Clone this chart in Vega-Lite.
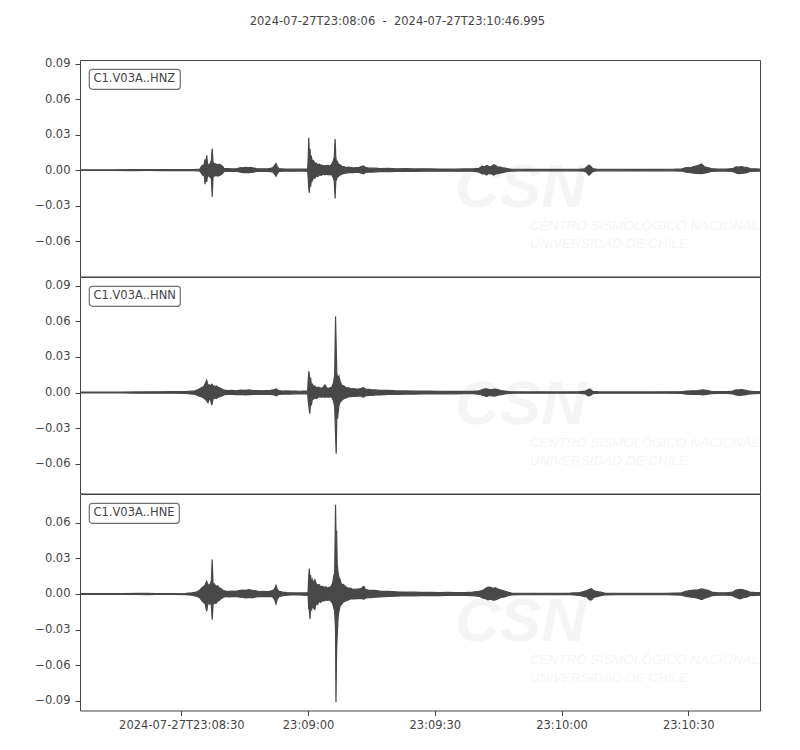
{
  "$schema": "https://vega.github.io/schema/vega-lite/v6.json",
  "description": "Three-component seismogram, station C1.V03A",
  "padding": {"left": 34, "top": 15, "right": 37, "bottom": 10},
  "title": {
    "text": "2024-07-27T23:08:06\u00a0 -\u00a0 2024-07-27T23:10:46.995",
    "anchor": "middle",
    "font": "DejaVu Sans",
    "fontSize": 11.5,
    "fontWeight": "normal",
    "color": "#454545",
    "offset": 30
  },
  "datasets": {
    "hnz": [
      {"t": 0, "lo": -0.0003, "hi": 0.0003}, {"t": 4, "lo": -0.0003, "hi": 0.0003}, {"t": 8, "lo": -0.0003, "hi": 0.0003},
      {"t": 12, "lo": -0.0004, "hi": 0.0004}, {"t": 16, "lo": -0.0003, "hi": 0.0005}, {"t": 20, "lo": -0.0004, "hi": 0.0004},
      {"t": 24, "lo": -0.0004, "hi": 0.0005}, {"t": 27, "lo": -0.0005, "hi": 0.0005}, {"t": 28.4, "lo": -0.0008, "hi": 0.0008},
      {"t": 28.8, "lo": -0.003, "hi": 0.0035}, {"t": 29.1, "lo": -0.0045, "hi": 0.004}, {"t": 29.4, "lo": -0.004, "hi": 0.005},
      {"t": 29.6, "lo": -0.012, "hi": 0.009}, {"t": 29.8, "lo": -0.005, "hi": 0.006}, {"t": 30, "lo": -0.01, "hi": 0.0125},
      {"t": 30.2, "lo": -0.0045, "hi": 0.005}, {"t": 30.5, "lo": -0.005, "hi": 0.0045}, {"t": 30.8, "lo": -0.006, "hi": 0.0055},
      {"t": 31.1, "lo": -0.007, "hi": 0.008}, {"t": 31.3, "lo": -0.0226, "hi": 0.0183}, {"t": 31.5, "lo": -0.006, "hi": 0.0065},
      {"t": 31.8, "lo": -0.005, "hi": 0.0055}, {"t": 32.2, "lo": -0.0045, "hi": 0.005}, {"t": 32.6, "lo": -0.005, "hi": 0.0045},
      {"t": 33, "lo": -0.0045, "hi": 0.005}, {"t": 33.4, "lo": -0.004, "hi": 0.004}, {"t": 33.8, "lo": -0.0025, "hi": 0.003},
      {"t": 34.1, "lo": -0.0012, "hi": 0.0012}, {"t": 35, "lo": -0.001, "hi": 0.0012}, {"t": 36, "lo": -0.0012, "hi": 0.001},
      {"t": 37, "lo": -0.001, "hi": 0.0011}, {"t": 38, "lo": -0.0018, "hi": 0.002}, {"t": 38.6, "lo": -0.0022, "hi": 0.0018},
      {"t": 39.2, "lo": -0.002, "hi": 0.0023}, {"t": 39.8, "lo": -0.0023, "hi": 0.002}, {"t": 40.4, "lo": -0.002, "hi": 0.0024},
      {"t": 41, "lo": -0.0018, "hi": 0.0018}, {"t": 41.8, "lo": -0.0012, "hi": 0.0012}, {"t": 43, "lo": -0.001, "hi": 0.0011},
      {"t": 44.5, "lo": -0.0011, "hi": 0.001}, {"t": 45.6, "lo": -0.0015, "hi": 0.0018}, {"t": 46.1, "lo": -0.0035, "hi": 0.004},
      {"t": 46.4, "lo": -0.0052, "hi": 0.0055}, {"t": 46.7, "lo": -0.003, "hi": 0.003}, {"t": 47.1, "lo": -0.0012, "hi": 0.0012},
      {"t": 48.5, "lo": -0.0008, "hi": 0.0009}, {"t": 50, "lo": -0.0009, "hi": 0.0008}, {"t": 51.5, "lo": -0.0008, "hi": 0.0009},
      {"t": 53, "lo": -0.0008, "hi": 0.0008}, {"t": 53.9, "lo": -0.0009, "hi": 0.0009}, {"t": 54.05, "lo": -0.008, "hi": 0.012},
      {"t": 54.15, "lo": -0.015, "hi": 0.0273}, {"t": 54.3, "lo": -0.0192, "hi": 0.015}, {"t": 54.45, "lo": -0.01, "hi": 0.018},
      {"t": 54.6, "lo": -0.014, "hi": 0.009}, {"t": 54.8, "lo": -0.008, "hi": 0.011}, {"t": 55, "lo": -0.009, "hi": 0.0075},
      {"t": 55.3, "lo": -0.006, "hi": 0.008}, {"t": 55.6, "lo": -0.007, "hi": 0.0055}, {"t": 55.9, "lo": -0.005, "hi": 0.006},
      {"t": 56.3, "lo": -0.0055, "hi": 0.0045}, {"t": 56.7, "lo": -0.004, "hi": 0.005}, {"t": 57.1, "lo": -0.0045, "hi": 0.004},
      {"t": 57.5, "lo": -0.0035, "hi": 0.004}, {"t": 57.9, "lo": -0.004, "hi": 0.0035}, {"t": 58.3, "lo": -0.0035, "hi": 0.0038},
      {"t": 58.7, "lo": -0.0038, "hi": 0.004}, {"t": 59.1, "lo": -0.004, "hi": 0.0035}, {"t": 59.5, "lo": -0.0035, "hi": 0.0045},
      {"t": 59.9, "lo": -0.006, "hi": 0.007}, {"t": 60.2, "lo": -0.009, "hi": 0.011}, {"t": 60.4, "lo": -0.024, "hi": 0.0262},
      {"t": 60.55, "lo": -0.01, "hi": 0.012}, {"t": 60.7, "lo": -0.0085, "hi": 0.007}, {"t": 60.9, "lo": -0.006, "hi": 0.0075},
      {"t": 61.2, "lo": -0.0055, "hi": 0.005}, {"t": 61.6, "lo": -0.004, "hi": 0.0045}, {"t": 62, "lo": -0.0035, "hi": 0.003},
      {"t": 62.5, "lo": -0.0028, "hi": 0.003}, {"t": 63, "lo": -0.0025, "hi": 0.0022}, {"t": 63.6, "lo": -0.0022, "hi": 0.0025},
      {"t": 64.2, "lo": -0.002, "hi": 0.002}, {"t": 64.8, "lo": -0.0022, "hi": 0.0018}, {"t": 65.4, "lo": -0.0018, "hi": 0.002},
      {"t": 66, "lo": -0.002, "hi": 0.0022}, {"t": 66.6, "lo": -0.0025, "hi": 0.003}, {"t": 67.1, "lo": -0.0032, "hi": 0.0036},
      {"t": 67.6, "lo": -0.002, "hi": 0.0022}, {"t": 68.3, "lo": -0.0016, "hi": 0.0018}, {"t": 69, "lo": -0.0018, "hi": 0.0016},
      {"t": 70, "lo": -0.0015, "hi": 0.0016}, {"t": 71, "lo": -0.0014, "hi": 0.0013}, {"t": 73, "lo": -0.0013, "hi": 0.0014},
      {"t": 75, "lo": -0.0012, "hi": 0.0011}, {"t": 77, "lo": -0.001, "hi": 0.0012}, {"t": 79, "lo": -0.0011, "hi": 0.001},
      {"t": 81, "lo": -0.001, "hi": 0.0011}, {"t": 83, "lo": -0.0009, "hi": 0.001}, {"t": 85, "lo": -0.001, "hi": 0.0009},
      {"t": 87, "lo": -0.0008, "hi": 0.0009}, {"t": 89, "lo": -0.0009, "hi": 0.0008}, {"t": 91, "lo": -0.0009, "hi": 0.001},
      {"t": 93, "lo": -0.001, "hi": 0.001}, {"t": 94.5, "lo": -0.0018, "hi": 0.0015}, {"t": 95.2, "lo": -0.0032, "hi": 0.0034},
      {"t": 95.8, "lo": -0.003, "hi": 0.0028}, {"t": 96.3, "lo": -0.0042, "hi": 0.004}, {"t": 96.8, "lo": -0.0028, "hi": 0.003},
      {"t": 97.4, "lo": -0.0032, "hi": 0.003}, {"t": 98, "lo": -0.0042, "hi": 0.0045}, {"t": 98.3, "lo": -0.0035, "hi": 0.004},
      {"t": 98.8, "lo": -0.003, "hi": 0.0028}, {"t": 99.5, "lo": -0.0025, "hi": 0.0026}, {"t": 100.3, "lo": -0.002, "hi": 0.0018},
      {"t": 101.2, "lo": -0.0012, "hi": 0.0012}, {"t": 102, "lo": -0.0008, "hi": 0.0008}, {"t": 104, "lo": -0.0006, "hi": 0.0007},
      {"t": 106, "lo": -0.0007, "hi": 0.0006}, {"t": 108, "lo": -0.0006, "hi": 0.0006}, {"t": 110, "lo": -0.0006, "hi": 0.0007},
      {"t": 112, "lo": -0.0007, "hi": 0.0006}, {"t": 114, "lo": -0.0006, "hi": 0.0006}, {"t": 116, "lo": -0.0006, "hi": 0.0007},
      {"t": 118, "lo": -0.0007, "hi": 0.0007}, {"t": 119.5, "lo": -0.001, "hi": 0.0011}, {"t": 120.1, "lo": -0.0025, "hi": 0.003},
      {"t": 120.5, "lo": -0.0045, "hi": 0.0042}, {"t": 120.9, "lo": -0.003, "hi": 0.0032}, {"t": 121.4, "lo": -0.0012, "hi": 0.0012},
      {"t": 122.5, "lo": -0.0006, "hi": 0.0007}, {"t": 125, "lo": -0.0006, "hi": 0.0006}, {"t": 128, "lo": -0.0006, "hi": 0.0007},
      {"t": 131, "lo": -0.0007, "hi": 0.0006}, {"t": 134, "lo": -0.0006, "hi": 0.0006}, {"t": 137, "lo": -0.0006, "hi": 0.0006},
      {"t": 140, "lo": -0.0006, "hi": 0.0007}, {"t": 142.5, "lo": -0.001, "hi": 0.001}, {"t": 143.5, "lo": -0.0018, "hi": 0.002},
      {"t": 144.5, "lo": -0.0022, "hi": 0.002}, {"t": 145.3, "lo": -0.0025, "hi": 0.003}, {"t": 146, "lo": -0.0028, "hi": 0.0035},
      {"t": 147.2, "lo": -0.003, "hi": 0.0052}, {"t": 147.8, "lo": -0.0025, "hi": 0.0028}, {"t": 148.6, "lo": -0.002, "hi": 0.0022},
      {"t": 149.5, "lo": -0.0012, "hi": 0.0012}, {"t": 151, "lo": -0.0008, "hi": 0.0008}, {"t": 153, "lo": -0.0008, "hi": 0.0009},
      {"t": 154.5, "lo": -0.0012, "hi": 0.0012}, {"t": 155.3, "lo": -0.0025, "hi": 0.0028}, {"t": 155.9, "lo": -0.003, "hi": 0.0025},
      {"t": 156.5, "lo": -0.0028, "hi": 0.003}, {"t": 157.2, "lo": -0.0025, "hi": 0.0025}, {"t": 157.9, "lo": -0.0022, "hi": 0.0024},
      {"t": 158.6, "lo": -0.0012, "hi": 0.0012}, {"t": 160, "lo": -0.0009, "hi": 0.001}, {"t": 161, "lo": -0.0008, "hi": 0.0008}
    ],
    "hnn": [
      {"t": 0, "lo": -0.0003, "hi": 0.0003}, {"t": 5, "lo": -0.0003, "hi": 0.0003}, {"t": 10, "lo": -0.0003, "hi": 0.0004},
      {"t": 14, "lo": -0.0005, "hi": 0.0005}, {"t": 18, "lo": -0.0006, "hi": 0.0006}, {"t": 22, "lo": -0.0006, "hi": 0.0007},
      {"t": 25, "lo": -0.0008, "hi": 0.0008}, {"t": 27.2, "lo": -0.0015, "hi": 0.0014}, {"t": 28, "lo": -0.0028, "hi": 0.0025},
      {"t": 28.7, "lo": -0.0035, "hi": 0.004}, {"t": 29.3, "lo": -0.0045, "hi": 0.005}, {"t": 29.7, "lo": -0.006, "hi": 0.008},
      {"t": 30, "lo": -0.007, "hi": 0.0104}, {"t": 30.3, "lo": -0.0085, "hi": 0.006}, {"t": 30.6, "lo": -0.0055, "hi": 0.0065},
      {"t": 30.9, "lo": -0.006, "hi": 0.0055}, {"t": 31.2, "lo": -0.0107, "hi": 0.007}, {"t": 31.5, "lo": -0.0055, "hi": 0.006},
      {"t": 31.9, "lo": -0.0045, "hi": 0.005}, {"t": 32.3, "lo": -0.005, "hi": 0.0055}, {"t": 32.7, "lo": -0.004, "hi": 0.0045},
      {"t": 33.1, "lo": -0.0035, "hi": 0.004}, {"t": 33.6, "lo": -0.0028, "hi": 0.003}, {"t": 34.1, "lo": -0.0018, "hi": 0.002},
      {"t": 35, "lo": -0.0015, "hi": 0.0016}, {"t": 36, "lo": -0.0016, "hi": 0.0018}, {"t": 37, "lo": -0.0018, "hi": 0.0015},
      {"t": 38, "lo": -0.0016, "hi": 0.002}, {"t": 39, "lo": -0.002, "hi": 0.0018}, {"t": 40, "lo": -0.0018, "hi": 0.0022},
      {"t": 41, "lo": -0.0016, "hi": 0.0016}, {"t": 42, "lo": -0.0015, "hi": 0.0017}, {"t": 43, "lo": -0.0016, "hi": 0.0015},
      {"t": 44, "lo": -0.0015, "hi": 0.0016}, {"t": 45, "lo": -0.0016, "hi": 0.0017}, {"t": 46, "lo": -0.002, "hi": 0.0025},
      {"t": 46.5, "lo": -0.0028, "hi": 0.003}, {"t": 47, "lo": -0.0016, "hi": 0.0016}, {"t": 48, "lo": -0.0013, "hi": 0.0013},
      {"t": 49, "lo": -0.0012, "hi": 0.0014}, {"t": 50, "lo": -0.0013, "hi": 0.0012}, {"t": 51, "lo": -0.0011, "hi": 0.0012},
      {"t": 52, "lo": -0.0012, "hi": 0.0011}, {"t": 53, "lo": -0.0011, "hi": 0.0012}, {"t": 53.9, "lo": -0.0012, "hi": 0.0012},
      {"t": 54.05, "lo": -0.008, "hi": 0.012}, {"t": 54.2, "lo": -0.012, "hi": 0.018}, {"t": 54.4, "lo": -0.0178, "hi": 0.011},
      {"t": 54.6, "lo": -0.009, "hi": 0.012}, {"t": 54.8, "lo": -0.01, "hi": 0.006}, {"t": 55, "lo": -0.006, "hi": 0.007},
      {"t": 55.3, "lo": -0.0055, "hi": 0.005}, {"t": 55.6, "lo": -0.0045, "hi": 0.0055}, {"t": 56, "lo": -0.005, "hi": 0.004},
      {"t": 56.4, "lo": -0.004, "hi": 0.0045}, {"t": 56.8, "lo": -0.0035, "hi": 0.004}, {"t": 57.2, "lo": -0.004, "hi": 0.0035},
      {"t": 57.6, "lo": -0.0035, "hi": 0.0045}, {"t": 58, "lo": -0.004, "hi": 0.0065}, {"t": 58.4, "lo": -0.0035, "hi": 0.004},
      {"t": 58.8, "lo": -0.004, "hi": 0.0035}, {"t": 59.2, "lo": -0.0035, "hi": 0.004}, {"t": 59.6, "lo": -0.004, "hi": 0.0045},
      {"t": 60, "lo": -0.007, "hi": 0.008}, {"t": 60.3, "lo": -0.012, "hi": 0.015}, {"t": 60.5, "lo": -0.035, "hi": 0.0642},
      {"t": 60.65, "lo": -0.0515, "hi": 0.04}, {"t": 60.8, "lo": -0.02, "hi": 0.017}, {"t": 61, "lo": -0.021, "hi": 0.012},
      {"t": 61.3, "lo": -0.011, "hi": 0.014}, {"t": 61.6, "lo": -0.008, "hi": 0.009}, {"t": 62, "lo": -0.0065, "hi": 0.006},
      {"t": 62.5, "lo": -0.005, "hi": 0.0055}, {"t": 63, "lo": -0.0045, "hi": 0.004}, {"t": 63.6, "lo": -0.0035, "hi": 0.004},
      {"t": 64.2, "lo": -0.0035, "hi": 0.0032}, {"t": 64.8, "lo": -0.003, "hi": 0.0033}, {"t": 65.4, "lo": -0.0032, "hi": 0.003},
      {"t": 66, "lo": -0.0028, "hi": 0.003}, {"t": 66.6, "lo": -0.003, "hi": 0.0035}, {"t": 67.1, "lo": -0.004, "hi": 0.0042},
      {"t": 67.6, "lo": -0.0028, "hi": 0.003}, {"t": 68.4, "lo": -0.0025, "hi": 0.0026}, {"t": 69.2, "lo": -0.0024, "hi": 0.0022},
      {"t": 70, "lo": -0.002, "hi": 0.0022}, {"t": 71, "lo": -0.002, "hi": 0.0018}, {"t": 73, "lo": -0.0016, "hi": 0.0018},
      {"t": 75, "lo": -0.0015, "hi": 0.0014}, {"t": 77, "lo": -0.0013, "hi": 0.0014}, {"t": 79, "lo": -0.0014, "hi": 0.0012},
      {"t": 81, "lo": -0.0012, "hi": 0.0013}, {"t": 83, "lo": -0.0011, "hi": 0.0012}, {"t": 85, "lo": -0.0012, "hi": 0.0011},
      {"t": 87, "lo": -0.001, "hi": 0.001}, {"t": 89, "lo": -0.0011, "hi": 0.001}, {"t": 91, "lo": -0.001, "hi": 0.0011},
      {"t": 93, "lo": -0.001, "hi": 0.001}, {"t": 94.5, "lo": -0.0015, "hi": 0.0015}, {"t": 95.6, "lo": -0.0025, "hi": 0.003},
      {"t": 96.2, "lo": -0.0035, "hi": 0.0032}, {"t": 96.8, "lo": -0.0025, "hi": 0.0028}, {"t": 97.5, "lo": -0.0028, "hi": 0.0025},
      {"t": 98.2, "lo": -0.003, "hi": 0.0028}, {"t": 98.9, "lo": -0.0022, "hi": 0.0024}, {"t": 99.7, "lo": -0.0018, "hi": 0.0016},
      {"t": 100.6, "lo": -0.0012, "hi": 0.0012}, {"t": 101.5, "lo": -0.0008, "hi": 0.0008}, {"t": 103, "lo": -0.0006, "hi": 0.0006},
      {"t": 106, "lo": -0.0006, "hi": 0.0005}, {"t": 109, "lo": -0.0005, "hi": 0.0006}, {"t": 112, "lo": -0.0006, "hi": 0.0005},
      {"t": 115, "lo": -0.0005, "hi": 0.0005}, {"t": 118, "lo": -0.0006, "hi": 0.0006}, {"t": 119.7, "lo": -0.0012, "hi": 0.0012},
      {"t": 120.3, "lo": -0.0028, "hi": 0.0026}, {"t": 120.8, "lo": -0.0024, "hi": 0.0028}, {"t": 121.4, "lo": -0.001, "hi": 0.001},
      {"t": 123, "lo": -0.0005, "hi": 0.0005}, {"t": 127, "lo": -0.0005, "hi": 0.0005}, {"t": 131, "lo": -0.0005, "hi": 0.0005},
      {"t": 135, "lo": -0.0005, "hi": 0.0005}, {"t": 139, "lo": -0.0005, "hi": 0.0006}, {"t": 142.5, "lo": -0.0008, "hi": 0.0008},
      {"t": 143.5, "lo": -0.0014, "hi": 0.0012}, {"t": 145, "lo": -0.0016, "hi": 0.0015}, {"t": 146.3, "lo": -0.0014, "hi": 0.0016},
      {"t": 147.5, "lo": -0.002, "hi": 0.0022}, {"t": 148.3, "lo": -0.0016, "hi": 0.0018}, {"t": 149.5, "lo": -0.001, "hi": 0.001},
      {"t": 151, "lo": -0.0007, "hi": 0.0007}, {"t": 153, "lo": -0.0008, "hi": 0.0007}, {"t": 154.5, "lo": -0.0012, "hi": 0.0012},
      {"t": 155.3, "lo": -0.002, "hi": 0.0022}, {"t": 156, "lo": -0.0024, "hi": 0.0022}, {"t": 156.7, "lo": -0.0022, "hi": 0.0024},
      {"t": 157.4, "lo": -0.002, "hi": 0.002}, {"t": 158.2, "lo": -0.0014, "hi": 0.0014}, {"t": 159.5, "lo": -0.0009, "hi": 0.0009},
      {"t": 161, "lo": -0.0008, "hi": 0.0008}
    ],
    "hne": [
      {"t": 0, "lo": -0.0003, "hi": 0.0003}, {"t": 5, "lo": -0.0003, "hi": 0.0003}, {"t": 10, "lo": -0.0003, "hi": 0.0003},
      {"t": 14, "lo": -0.0004, "hi": 0.0005}, {"t": 16, "lo": -0.0005, "hi": 0.0006}, {"t": 18, "lo": -0.0004, "hi": 0.0004},
      {"t": 22, "lo": -0.0004, "hi": 0.0004}, {"t": 25, "lo": -0.0006, "hi": 0.0006}, {"t": 26.5, "lo": -0.001, "hi": 0.001},
      {"t": 27.5, "lo": -0.0018, "hi": 0.0015}, {"t": 28.3, "lo": -0.003, "hi": 0.003}, {"t": 28.8, "lo": -0.0055, "hi": 0.005},
      {"t": 29.2, "lo": -0.007, "hi": 0.006}, {"t": 29.6, "lo": -0.008, "hi": 0.0075}, {"t": 30, "lo": -0.0146, "hi": 0.0107},
      {"t": 30.3, "lo": -0.0075, "hi": 0.008}, {"t": 30.6, "lo": -0.0085, "hi": 0.007}, {"t": 30.9, "lo": -0.007, "hi": 0.009},
      {"t": 31.1, "lo": -0.01, "hi": 0.011}, {"t": 31.3, "lo": -0.0217, "hi": 0.029}, {"t": 31.5, "lo": -0.009, "hi": 0.008},
      {"t": 31.8, "lo": -0.0075, "hi": 0.0085}, {"t": 32.2, "lo": -0.008, "hi": 0.0065}, {"t": 32.6, "lo": -0.006, "hi": 0.007},
      {"t": 33, "lo": -0.0055, "hi": 0.005}, {"t": 33.4, "lo": -0.004, "hi": 0.0045}, {"t": 33.9, "lo": -0.003, "hi": 0.0028},
      {"t": 34.5, "lo": -0.0022, "hi": 0.0024}, {"t": 35.3, "lo": -0.0025, "hi": 0.0022}, {"t": 36, "lo": -0.0022, "hi": 0.0025},
      {"t": 36.8, "lo": -0.002, "hi": 0.0022}, {"t": 37.6, "lo": -0.0025, "hi": 0.0028}, {"t": 38.4, "lo": -0.003, "hi": 0.0032},
      {"t": 39.2, "lo": -0.0034, "hi": 0.003}, {"t": 40, "lo": -0.003, "hi": 0.0036}, {"t": 40.8, "lo": -0.0034, "hi": 0.003},
      {"t": 41.6, "lo": -0.0025, "hi": 0.0026}, {"t": 42.4, "lo": -0.0022, "hi": 0.002}, {"t": 43.2, "lo": -0.002, "hi": 0.0022},
      {"t": 44, "lo": -0.0022, "hi": 0.002}, {"t": 44.8, "lo": -0.002, "hi": 0.0022}, {"t": 45.6, "lo": -0.0025, "hi": 0.0028},
      {"t": 46.1, "lo": -0.005, "hi": 0.0045}, {"t": 46.4, "lo": -0.0084, "hi": 0.0073}, {"t": 46.7, "lo": -0.0045, "hi": 0.004},
      {"t": 47.1, "lo": -0.0022, "hi": 0.0022}, {"t": 48, "lo": -0.0015, "hi": 0.0015}, {"t": 49, "lo": -0.001, "hi": 0.0011},
      {"t": 50, "lo": -0.0009, "hi": 0.001}, {"t": 51, "lo": -0.0009, "hi": 0.0009}, {"t": 52, "lo": -0.0009, "hi": 0.0009},
      {"t": 53, "lo": -0.001, "hi": 0.0009}, {"t": 54, "lo": -0.0012, "hi": 0.0012}, {"t": 54.15, "lo": -0.012, "hi": 0.015},
      {"t": 54.3, "lo": -0.014, "hi": 0.0214}, {"t": 54.45, "lo": -0.021, "hi": 0.012}, {"t": 54.6, "lo": -0.011, "hi": 0.016},
      {"t": 54.8, "lo": -0.014, "hi": 0.009}, {"t": 55, "lo": -0.01, "hi": 0.012}, {"t": 55.3, "lo": -0.012, "hi": 0.009},
      {"t": 55.6, "lo": -0.013, "hi": 0.012}, {"t": 55.9, "lo": -0.008, "hi": 0.009}, {"t": 56.2, "lo": -0.009, "hi": 0.0075},
      {"t": 56.6, "lo": -0.0065, "hi": 0.008}, {"t": 57, "lo": -0.007, "hi": 0.006}, {"t": 57.4, "lo": -0.0055, "hi": 0.0065},
      {"t": 57.8, "lo": -0.006, "hi": 0.0055}, {"t": 58.2, "lo": -0.005, "hi": 0.006}, {"t": 58.6, "lo": -0.0055, "hi": 0.005},
      {"t": 59, "lo": -0.005, "hi": 0.0055}, {"t": 59.4, "lo": -0.006, "hi": 0.006}, {"t": 59.8, "lo": -0.008, "hi": 0.009},
      {"t": 60.1, "lo": -0.012, "hi": 0.015}, {"t": 60.3, "lo": -0.015, "hi": 0.018}, {"t": 60.5, "lo": -0.03, "hi": 0.0753},
      {"t": 60.6, "lo": -0.0913, "hi": 0.053}, {"t": 60.75, "lo": -0.048, "hi": 0.053}, {"t": 60.9, "lo": -0.035, "hi": 0.025},
      {"t": 61.1, "lo": -0.02, "hi": 0.018}, {"t": 61.3, "lo": -0.015, "hi": 0.014}, {"t": 61.6, "lo": -0.01, "hi": 0.012},
      {"t": 61.9, "lo": -0.009, "hi": 0.008}, {"t": 62.3, "lo": -0.007, "hi": 0.008}, {"t": 62.8, "lo": -0.006, "hi": 0.0065},
      {"t": 63.3, "lo": -0.0055, "hi": 0.005}, {"t": 63.9, "lo": -0.0045, "hi": 0.005}, {"t": 64.5, "lo": -0.004, "hi": 0.0042},
      {"t": 65.1, "lo": -0.0042, "hi": 0.0038}, {"t": 65.7, "lo": -0.0038, "hi": 0.004}, {"t": 66.3, "lo": -0.004, "hi": 0.0042},
      {"t": 66.9, "lo": -0.004, "hi": 0.0055}, {"t": 67.2, "lo": -0.0045, "hi": 0.0065}, {"t": 67.6, "lo": -0.0035, "hi": 0.0038},
      {"t": 68.3, "lo": -0.003, "hi": 0.0032}, {"t": 69, "lo": -0.0032, "hi": 0.003}, {"t": 69.8, "lo": -0.0028, "hi": 0.003},
      {"t": 71, "lo": -0.0025, "hi": 0.0025}, {"t": 73, "lo": -0.002, "hi": 0.0022}, {"t": 75, "lo": -0.0018, "hi": 0.0018},
      {"t": 77, "lo": -0.0015, "hi": 0.0016}, {"t": 79, "lo": -0.0016, "hi": 0.0015}, {"t": 81, "lo": -0.0014, "hi": 0.0014},
      {"t": 83, "lo": -0.0013, "hi": 0.0014}, {"t": 85, "lo": -0.0014, "hi": 0.0012}, {"t": 87, "lo": -0.0012, "hi": 0.0013},
      {"t": 89, "lo": -0.0012, "hi": 0.0012}, {"t": 91, "lo": -0.0013, "hi": 0.0012}, {"t": 93, "lo": -0.0014, "hi": 0.0015},
      {"t": 94.5, "lo": -0.002, "hi": 0.0022}, {"t": 95.4, "lo": -0.0035, "hi": 0.003}, {"t": 96, "lo": -0.004, "hi": 0.0045},
      {"t": 96.6, "lo": -0.005, "hi": 0.0058}, {"t": 97.2, "lo": -0.0045, "hi": 0.0055}, {"t": 97.8, "lo": -0.0052, "hi": 0.0048},
      {"t": 98.4, "lo": -0.005, "hi": 0.0052}, {"t": 99, "lo": -0.004, "hi": 0.0042}, {"t": 99.7, "lo": -0.003, "hi": 0.0032},
      {"t": 100.5, "lo": -0.0025, "hi": 0.0025}, {"t": 101.3, "lo": -0.0015, "hi": 0.0015}, {"t": 102.2, "lo": -0.0008, "hi": 0.0008},
      {"t": 104, "lo": -0.0006, "hi": 0.0006}, {"t": 107, "lo": -0.0006, "hi": 0.0006}, {"t": 110, "lo": -0.0006, "hi": 0.0006},
      {"t": 113, "lo": -0.0006, "hi": 0.0006}, {"t": 116, "lo": -0.0006, "hi": 0.0007}, {"t": 118.3, "lo": -0.0012, "hi": 0.0012},
      {"t": 119.2, "lo": -0.002, "hi": 0.002}, {"t": 120, "lo": -0.0025, "hi": 0.0028}, {"t": 120.6, "lo": -0.005, "hi": 0.004},
      {"t": 121.1, "lo": -0.005, "hi": 0.0045}, {"t": 121.6, "lo": -0.003, "hi": 0.0028}, {"t": 122.4, "lo": -0.0022, "hi": 0.002},
      {"t": 123.3, "lo": -0.0015, "hi": 0.0015}, {"t": 124.2, "lo": -0.0008, "hi": 0.0008}, {"t": 127, "lo": -0.0006, "hi": 0.0006},
      {"t": 131, "lo": -0.0006, "hi": 0.0006}, {"t": 135, "lo": -0.0006, "hi": 0.0006}, {"t": 139, "lo": -0.0006, "hi": 0.0006},
      {"t": 142.4, "lo": -0.001, "hi": 0.001}, {"t": 143.4, "lo": -0.002, "hi": 0.0022}, {"t": 144.4, "lo": -0.0025, "hi": 0.0028},
      {"t": 145.3, "lo": -0.003, "hi": 0.0032}, {"t": 146.2, "lo": -0.0035, "hi": 0.0034}, {"t": 147.2, "lo": -0.0048, "hi": 0.0042},
      {"t": 147.9, "lo": -0.0035, "hi": 0.0036}, {"t": 148.7, "lo": -0.0028, "hi": 0.003}, {"t": 149.6, "lo": -0.0015, "hi": 0.0016},
      {"t": 151, "lo": -0.001, "hi": 0.001}, {"t": 153, "lo": -0.001, "hi": 0.001}, {"t": 154.5, "lo": -0.0014, "hi": 0.0015},
      {"t": 155.3, "lo": -0.003, "hi": 0.0032}, {"t": 156.3, "lo": -0.0042, "hi": 0.0038}, {"t": 157, "lo": -0.0032, "hi": 0.0035},
      {"t": 157.8, "lo": -0.0028, "hi": 0.0026}, {"t": 158.6, "lo": -0.0015, "hi": 0.0016}, {"t": 160, "lo": -0.0012, "hi": 0.0012},
      {"t": 161, "lo": -0.0011, "hi": 0.0011}
    ]
  },
  "spacing": 0,
  "bounds": "flush",
  "resolve": {"scale": {"color": "independent", "y": "independent"}},
  "vconcat": [
    {
      "width": 680,
      "height": 216.5,
      "layer": [
        {
          "data": {"values": [{}]},
          "mark": {"type": "text", "text": "CSN", "font": "Liberation Sans", "fontSize": 62, "fontWeight": "bold", "fontStyle": "italic", "align": "left", "baseline": "alphabetic", "color": "#f5f5f5", "clip": true},
          "encoding": {"x": {"datum": 88.8, "type": "quantitative", "scale": {"domain": [0, 160.995], "nice": false, "zero": false}}, "y": {"datum": -0.031, "type": "quantitative", "scale": {"domain": [-0.0899, 0.093], "nice": false, "zero": false}}}
        },
        {
          "data": {"values": [{}]},
          "mark": {"type": "text", "text": ["CENTRO SISMOLÓGICO NACIONAL", "UNIVERSIDAD DE CHILE"], "font": "Liberation Sans", "fontSize": 13.5, "fontStyle": "italic", "lineHeight": 18, "align": "left", "baseline": "alphabetic", "color": "#f5f5f5", "clip": true},
          "encoding": {"x": {"datum": 106.5, "type": "quantitative"}, "y": {"datum": -0.0505, "type": "quantitative"}}
        },
        {
          "data": {"name": "hnz"},
          "mark": {"type": "area", "stroke": "#484848", "strokeWidth": 1.2, "clip": true},
          "encoding": {
            "x": {"field": "t", "type": "quantitative", "scale": {"domain": [0, 160.995], "nice": false, "zero": false}, "axis": null},
            "y": {"field": "lo", "type": "quantitative", "scale": {"domain": [-0.0899, 0.093], "nice": false, "zero": false}, "axis": {"values": [-0.06, -0.03, 0, 0.03, 0.06, 0.09]}},
            "y2": {"field": "hi"},
            "color": {"datum": "C1.V03A..HNZ", "scale": {"range": ["#484848"]}, "legend": {"title": null, "symbolSize": 0, "symbolStrokeWidth": 0, "labelOffset": -11}}
          }
        }
      ]
    },
    {
      "width": 680,
      "height": 216.5,
      "layer": [
        {
          "data": {"values": [{}]},
          "mark": {"type": "text", "text": "CSN", "font": "Liberation Sans", "fontSize": 62, "fontWeight": "bold", "fontStyle": "italic", "align": "left", "baseline": "alphabetic", "color": "#f5f5f5", "clip": true},
          "encoding": {"x": {"datum": 88.8, "type": "quantitative", "scale": {"domain": [0, 160.995], "nice": false, "zero": false}}, "y": {"datum": -0.0262, "type": "quantitative", "scale": {"domain": [-0.0851, 0.0974], "nice": false, "zero": false}}}
        },
        {
          "data": {"values": [{}]},
          "mark": {"type": "text", "text": ["CENTRO SISMOLÓGICO NACIONAL", "UNIVERSIDAD DE CHILE"], "font": "Liberation Sans", "fontSize": 13.5, "fontStyle": "italic", "lineHeight": 18, "align": "left", "baseline": "alphabetic", "color": "#f5f5f5", "clip": true},
          "encoding": {"x": {"datum": 106.5, "type": "quantitative"}, "y": {"datum": -0.0457, "type": "quantitative"}}
        },
        {
          "data": {"name": "hnn"},
          "mark": {"type": "area", "stroke": "#484848", "strokeWidth": 1.2, "clip": true},
          "encoding": {
            "x": {"field": "t", "type": "quantitative", "scale": {"domain": [0, 160.995], "nice": false, "zero": false}, "axis": null},
            "y": {"field": "lo", "type": "quantitative", "scale": {"domain": [-0.0851, 0.0974], "nice": false, "zero": false}, "axis": {"values": [-0.06, -0.03, 0, 0.03, 0.06, 0.09]}},
            "y2": {"field": "hi"},
            "color": {"datum": "C1.V03A..HNN", "scale": {"range": ["#484848"]}, "legend": {"title": null, "symbolSize": 0, "symbolStrokeWidth": 0, "labelOffset": -11}}
          }
        }
      ]
    },
    {
      "width": 680,
      "height": 216.5,
      "layer": [
        {
          "data": {"values": [{}]},
          "mark": {"type": "text", "text": "CSN", "font": "Liberation Sans", "fontSize": 62, "fontWeight": "bold", "fontStyle": "italic", "align": "left", "baseline": "alphabetic", "color": "#f5f5f5", "clip": true},
          "encoding": {"x": {"datum": 88.8, "type": "quantitative", "scale": {"domain": [0, 160.995], "nice": false, "zero": false}}, "y": {"datum": -0.0394, "type": "quantitative", "scale": {"domain": [-0.0983, 0.0843], "nice": false, "zero": false}}}
        },
        {
          "data": {"values": [{}]},
          "mark": {"type": "text", "text": ["CENTRO SISMOLÓGICO NACIONAL", "UNIVERSIDAD DE CHILE"], "font": "Liberation Sans", "fontSize": 13.5, "fontStyle": "italic", "lineHeight": 18, "align": "left", "baseline": "alphabetic", "color": "#f5f5f5", "clip": true},
          "encoding": {"x": {"datum": 106.5, "type": "quantitative"}, "y": {"datum": -0.0589, "type": "quantitative"}}
        },
        {
          "data": {"name": "hne"},
          "mark": {"type": "area", "stroke": "#484848", "strokeWidth": 1.2, "clip": true},
          "encoding": {
            "x": {
              "field": "t", "type": "quantitative",
              "scale": {"domain": [0, 160.995], "nice": false, "zero": false},
              "axis": {
                "values": [24, 54, 84, 114, 144],
                "labelExpr": "utcFormat(utc(2024, 6, 27, 23, 8, 6 + datum.value), datum.value == 24 ? '%Y-%m-%dT%H:%M:%S' : '%H:%M:%S')"
              }
            },
            "y": {"field": "lo", "type": "quantitative", "scale": {"domain": [-0.0983, 0.0843], "nice": false, "zero": false}, "axis": {"values": [-0.09, -0.06, -0.03, 0, 0.03, 0.06]}},
            "y2": {"field": "hi"},
            "color": {"datum": "C1.V03A..HNE", "scale": {"range": ["#484848"]}, "legend": {"title": null, "symbolSize": 0, "symbolStrokeWidth": 0, "labelOffset": -11}}
          }
        }
      ]
    }
  ],
  "config": {
    "font": "DejaVu Sans",
    "view": {"stroke": "#454545", "strokeWidth": 1},
    "axis": {
      "title": null,
      "grid": false,
      "domain": false,
      "ticks": true,
      "tickSize": 5,
      "tickColor": "#454545",
      "tickWidth": 1,
      "labelFont": "DejaVu Sans",
      "labelFontSize": 11.5,
      "labelColor": "#454545",
      "labelPadding": 5,
      "format": ".2f"
    },
    "axisX": {"labelFlush": false, "labelOverlap": false, "labelPadding": 4},
    "legend": {
      "orient": "top-left",
      "offset": 9,
      "padding": 4,
      "strokeColor": "#707070",
      "strokeWidth": 1.2,
      "cornerRadius": 3,
      "fillColor": "#ffffff",
      "labelFont": "DejaVu Sans",
      "labelFontSize": 11.5,
      "labelColor": "#454545",
      "labelOffset": 0,
      "symbolSize": 0,
      "symbolStrokeWidth": 0,
      "symbolOpacity": 0
    }
  }
}
